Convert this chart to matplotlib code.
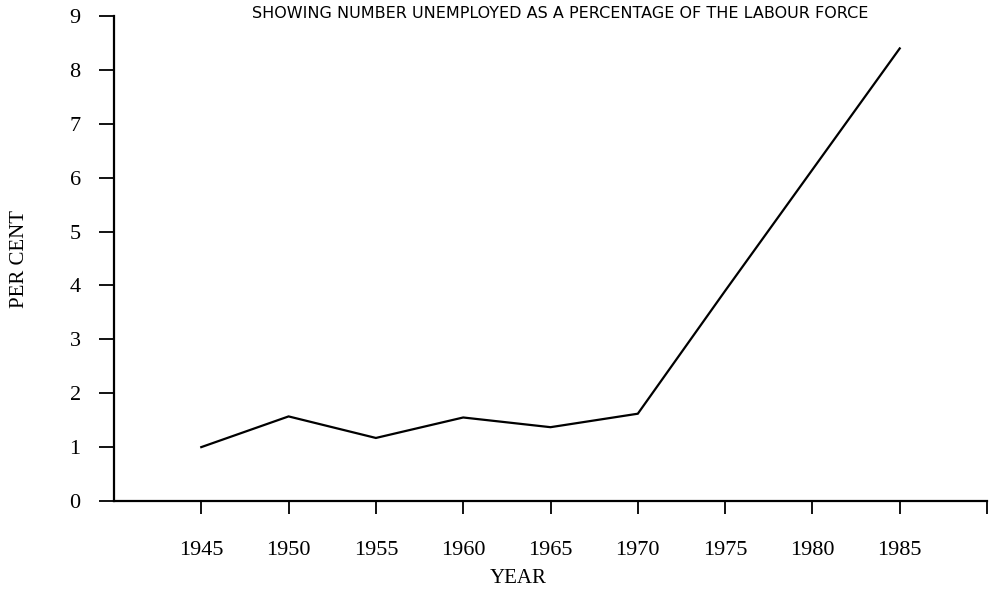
import matplotlib.pyplot as plt

plt.rcParams['font.family'] = ['Liberation Serif', 'DejaVu Serif']

years = [1945, 1950, 1955, 1960, 1965, 1970, 1975, 1980, 1985]
per_cent = [1.0, 1.57, 1.17, 1.55, 1.37, 1.62, 3.9, 6.15, 8.4]
x_ticks = [1945, 1950, 1955, 1960, 1965, 1970, 1975, 1980, 1985, 1990]
x_labels = ['1945', '1950', '1955', '1960', '1965', '1970', '1975', '1980', '1985', '']
y_ticks = [0, 1, 2, 3, 4, 5, 6, 7, 8, 9]

fig = plt.figure(figsize=(9.91, 5.96), dpi=100)
ax = fig.add_axes([0.115, 0.1594, 0.881, 0.8136])

ax.plot(years, per_cent, color='black', linewidth=1.6, solid_joinstyle='miter')

ax.set_xlim(1940, 1990)
ax.set_ylim(0, 9)
ax.set_xticks(x_ticks)
ax.set_xticklabels(x_labels, fontsize=16)
ax.set_yticks(y_ticks)
ax.set_yticklabels([str(v) for v in y_ticks], fontsize=16)

for side in ['top', 'right']:
    ax.spines[side].set_visible(False)
for side in ['left', 'bottom']:
    ax.spines[side].set_linewidth(1.6)
    ax.spines[side].set_color('black')

ax.tick_params(axis='y', direction='out', length=11, width=1.3, pad=13)
ax.tick_params(axis='x', direction='out', length=9, width=1.3, pad=20)

ax.set_ylabel('PER CENT', fontsize=15)
ax.yaxis.set_label_coords(-0.097, 0.5)
fig.text(0.523, 0.03, 'YEAR', fontsize=15, ha='center', va='center')

fig.text(0.565, 0.978, 'SHOWING NUMBER UNEMPLOYED AS A PERCENTAGE OF THE LABOUR FORCE',
         fontsize=11.5, ha='center', va='center',
         family=['Liberation Sans Narrow', 'DejaVu Sans'])

plt.savefig('out.png', dpi=100)
